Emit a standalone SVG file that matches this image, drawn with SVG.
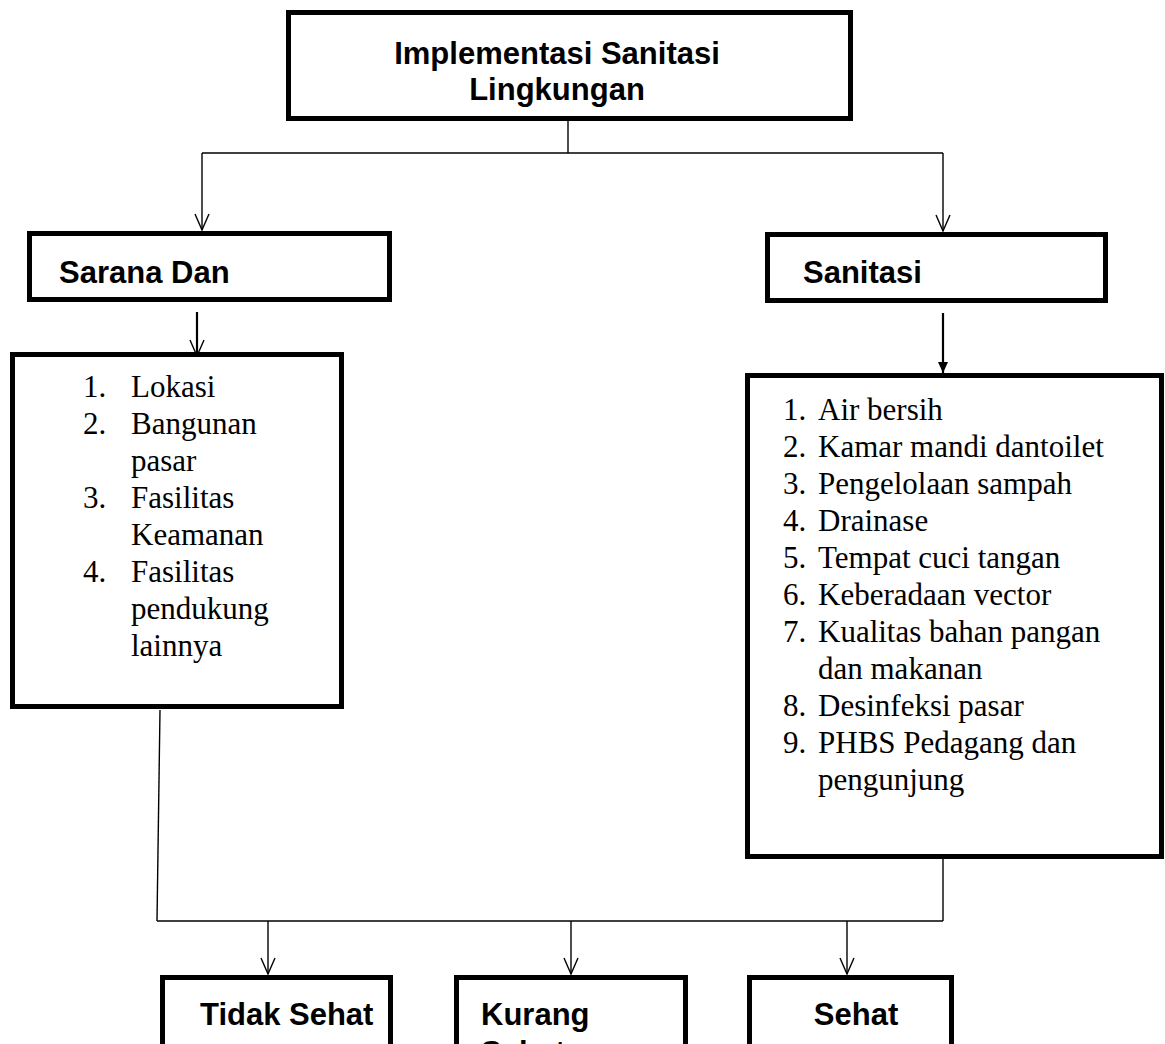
<svg xmlns="http://www.w3.org/2000/svg" width="1165" height="1044" viewBox="0 0 1165 1044">
<defs>
<style>
.box{fill:#fff;stroke:#000;stroke-width:5}
.hd{font-family:"Liberation Sans",Arial,sans-serif;font-weight:bold;font-size:31px;fill:#000}
.ls{font-family:"Liberation Serif","Times New Roman",serif;font-size:31px;fill:#000}
.ln{fill:none;stroke:#000;stroke-width:1.4}
.lt{fill:none;stroke:#000;stroke-width:2.2}
</style>
<marker id="vopen" viewBox="-17 -9 18 18" refX="0" refY="0" markerWidth="18" markerHeight="18" markerUnits="userSpaceOnUse" orient="auto">
<path d="M-16,-7 L0,0 L-16,7" fill="none" stroke="#000" stroke-width="1.4"/>
</marker>
<marker id="vfill" viewBox="-12 -7 13 14" refX="0" refY="0" markerWidth="13" markerHeight="14" markerUnits="userSpaceOnUse" orient="auto">
<path d="M-11,-5 L0,0 L-11,5 Z" fill="#000"/>
</marker>
</defs>
<rect width="1165" height="1044" fill="#fff"/>

<g id="connectors">
<path class="ln" d="M568,120 V153"/>
<path class="ln" d="M202,153 H943"/>
<path class="ln" d="M202,153 V230" marker-end="url(#vopen)"/>
<path class="ln" d="M943,153 V231" marker-end="url(#vopen)"/>
<path class="lt" d="M197,312 V356" marker-end="url(#vopen)"/>
<path class="lt" d="M943,313 V373" marker-end="url(#vfill)"/>
<path class="ln" d="M160,710 L157,921"/>
<path class="ln" d="M943,859 V921"/>
<path class="ln" d="M157,921 H943"/>
<path class="ln" d="M268,921 V974" marker-end="url(#vopen)"/>
<path class="ln" d="M571,921 V974" marker-end="url(#vopen)"/>
<path class="ln" d="M847,921 V974" marker-end="url(#vopen)"/>
</g>

<g id="node-implementasi">
<rect class="box" x="288.5" y="12.5" width="562" height="106"/>
<text class="hd" x="557" y="64" text-anchor="middle">Implementasi Sanitasi</text>
<text class="hd" x="557" y="100" text-anchor="middle">Lingkungan</text>
</g>

<g id="node-sarana">
<rect class="box" x="29.5" y="233.5" width="360" height="66"/>
<text class="hd" x="59" y="283">Sarana Dan</text>
</g>

<g id="node-sanitasi">
<rect class="box" x="767.5" y="234.5" width="338" height="66"/>
<text class="hd" x="803" y="283">Sanitasi</text>
</g>

<g id="node-list-sarana">
<rect class="box" x="12.5" y="354.5" width="329" height="352"/>
<text class="ls" x="83" y="397">1.</text><text class="ls" x="131" y="397">Lokasi</text>
<text class="ls" x="83" y="434">2.</text><text class="ls" x="131" y="434">Bangunan</text>
<text class="ls" x="131" y="471">pasar</text>
<text class="ls" x="83" y="508">3.</text><text class="ls" x="131" y="508">Fasilitas</text>
<text class="ls" x="131" y="545">Keamanan</text>
<text class="ls" x="83" y="582">4.</text><text class="ls" x="131" y="582">Fasilitas</text>
<text class="ls" x="131" y="619">pendukung</text>
<text class="ls" x="131" y="656">lainnya</text>
</g>

<g id="node-list-sanitasi">
<rect class="box" x="747.5" y="375.5" width="414" height="481"/>
<text class="ls" x="783" y="420">1.</text><text class="ls" x="818" y="420">Air bersih</text>
<text class="ls" x="783" y="457">2.</text><text class="ls" x="818" y="457">Kamar mandi dantoilet</text>
<text class="ls" x="783" y="494">3.</text><text class="ls" x="818" y="494">Pengelolaan sampah</text>
<text class="ls" x="783" y="531">4.</text><text class="ls" x="818" y="531">Drainase</text>
<text class="ls" x="783" y="568">5.</text><text class="ls" x="818" y="568">Tempat cuci tangan</text>
<text class="ls" x="783" y="605">6.</text><text class="ls" x="818" y="605">Keberadaan vector</text>
<text class="ls" x="783" y="642">7.</text><text class="ls" x="818" y="642">Kualitas bahan pangan</text>
<text class="ls" x="818" y="679">dan makanan</text>
<text class="ls" x="783" y="716">8.</text><text class="ls" x="818" y="716">Desinfeksi pasar</text>
<text class="ls" x="783" y="753">9.</text><text class="ls" x="818" y="753">PHBS Pedagang dan</text>
<text class="ls" x="818" y="790">pengunjung</text>
</g>

<g id="node-tidak-sehat">
<rect class="box" x="162.5" y="977.5" width="228" height="80"/>
<text class="hd" x="200" y="1025">Tidak Sehat</text>
</g>

<g id="node-kurang-sehat">
<rect class="box" x="456.5" y="977.5" width="229" height="80"/>
<text class="hd" x="481" y="1025">Kurang</text>
<text class="hd" x="481" y="1063">Sehat</text>
</g>

<g id="node-sehat">
<rect class="box" x="749.5" y="977.5" width="202" height="80"/>
<text class="hd" x="856" y="1025" text-anchor="middle">Sehat</text>
</g>
</svg>
